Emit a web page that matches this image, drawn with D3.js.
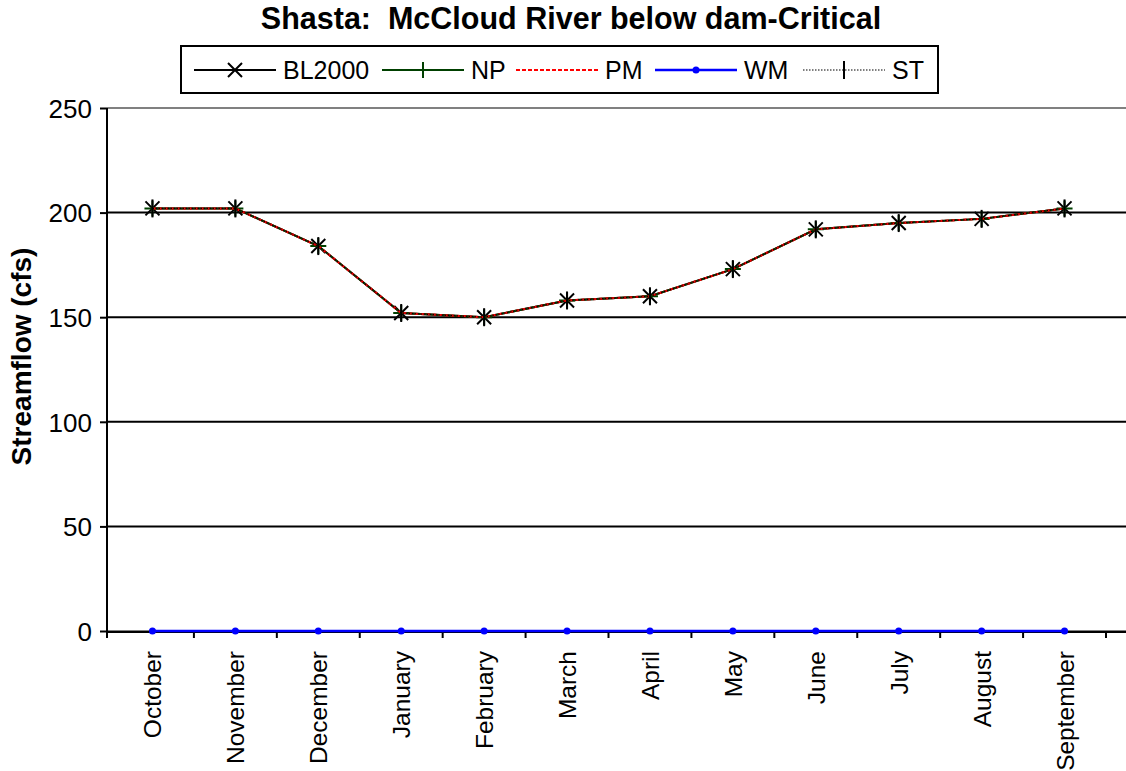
<!DOCTYPE html>
<html>
<head>
<meta charset="utf-8">
<script src="https://cdn.jsdelivr.net/npm/d3@7"></script>
<style>
  body { margin: 0; background: #fff; }
  svg text { font-family: "Liberation Sans", Arial, sans-serif; fill: #000; white-space: pre; }
</style>
</head>
<body>
<svg id="chart" width="1126" height="771"></svg>
<script>
// Shasta: McCloud River below dam — critical years, monthly streamflow

const months = ['October', 'November', 'December', 'January', 'February', 'March',
  'April', 'May', 'June', 'July', 'August', 'September'];

const bl2000 = [202, 202, 184, 152, 150, 158, 160, 173, 192, 195, 197, 202];
const np = [202, 202, 184, 152, 150, 158, 160, 173, 192, 195, 197, 202];
const pm = [202, 202, 184, 152, 150, 158, 160, 173, 192, 195, 197, 202];
const wm = [0, 0, 0, 0, 0, 0, 0, 0, 0, 0, 0, 0];
const st = [202, 202, 184, 152, 150, 158, 160, 173, 192, 195, 197, 202];

const yTicks = [0, 50, 100, 150, 200, 250];

const series = [
  { name: 'BL2000', values: bl2000, color: '#000', width: 2, dash: null, marker: 'x' },
  { name: 'NP', values: np, color: '#004000', width: 2, dash: null, marker: 'plus' },
  { name: 'PM', values: pm, color: '#ff0000', width: 2, dash: '4,2', marker: null },
  { name: 'WM', values: wm, color: '#0000ff', width: 2.5, dash: null, marker: 'dot' },
  { name: 'ST', values: st, color: '#000', width: 1.2, dash: '1.5,1.5', marker: 'bar' },
];

const svg = d3.select('#chart');
const plotL = 107, plotT = 108, plotB = 631, gridRight = 1126;

// category bands start a few px right of the axis line, as in the original
const x = d3.scaleBand().domain(months).range([111, 1106]);
const y = d3.scaleLinear().domain([0, 250]).range([plotB, plotT]);
const cx = m => x(m) + x.bandwidth() / 2;

// Title
svg.append('text')
  .attr('x', 571).attr('y', 29)
  .attr('text-anchor', 'middle')
  .style('font-size', '30.5px').style('font-weight', 'bold')
  .text('Shasta:  McCloud River below dam-Critical');

// Gridlines
svg.append('g').selectAll('line')
  .data(yTicks)
  .join('line')
  .attr('x1', plotL).attr('x2', gridRight)
  .attr('y1', d => y(d)).attr('y2', d => y(d))
  .attr('stroke', d => (d === 250 || d === 0) ? '#808080' : '#000')
  .attr('stroke-width', 2);

// Y axis
const yAxis = svg.append('g')
  .attr('transform', `translate(${plotL},0)`)
  .call(d3.axisLeft(y).tickValues(yTicks).tickSize(7).tickPadding(8));
yAxis.select('.domain').remove();
yAxis.selectAll('.tick line').attr('stroke', '#000').attr('stroke-width', 2);
yAxis.selectAll('.tick text').style('font-size', '26px').attr('dy', '0.36em');
svg.append('line')
  .attr('x1', plotL).attr('x2', plotL).attr('y1', plotT).attr('y2', plotB + 7)
  .attr('stroke', '#000').attr('stroke-width', 2);

// Y title
svg.append('text')
  .attr('transform', `translate(31,${(plotT + plotB) / 2 - 13}) rotate(-90)`)
  .attr('text-anchor', 'middle')
  .style('font-size', '28px').style('font-weight', 'bold')
  .text('Streamflow (cfs)');

// X axis
const xTickPos = d3.range(1, months.length + 1).map(i => x.range()[0] + i * x.step());
svg.append('g').selectAll('line')
  .data([plotL, ...xTickPos])
  .join('line')
  .attr('x1', d => d).attr('x2', d => d)
  .attr('y1', plotB).attr('y2', plotB + 7)
  .attr('stroke', '#000').attr('stroke-width', 2);
svg.append('line')
  .attr('x1', plotL).attr('x2', gridRight).attr('y1', plotB + 1).attr('y2', plotB + 1)
  .attr('stroke', '#000').attr('stroke-width', 2);

svg.append('g').selectAll('text')
  .data(months)
  .join('text')
  .attr('transform', d => `translate(${cx(d) + 9},${plotB + 20}) rotate(-90)`)
  .attr('text-anchor', 'end')
  .style('font-size', '24.5px')
  .text(d => d);

// Markers
function drawMarker(g, type, px, py, color) {
  if (type === 'x') {
    g.append('path').attr('d', `M${px - 7},${py - 7}L${px + 7},${py + 7}M${px - 7},${py + 7}L${px + 7},${py - 7}`)
      .attr('stroke', color).attr('stroke-width', 2);
  } else if (type === 'plus') {
    g.append('path').attr('d', `M${px - 8},${py}L${px + 8},${py}M${px},${py - 8}L${px},${py + 8}`)
      .attr('stroke', color).attr('stroke-width', 2);
  } else if (type === 'bar') {
    g.append('path').attr('d', `M${px},${py - 9}L${px},${py + 9}`)
      .attr('stroke', color).attr('stroke-width', 2);
  } else if (type === 'dot') {
    g.append('circle').attr('cx', px).attr('cy', py).attr('r', 3.5).attr('fill', color);
  }
}

const line = d3.line().x((d, i) => cx(months[i])).y(d => y(d));
const plot = svg.append('g');
series.forEach(s => {
  plot.append('path')
    .datum(s.values)
    .attr('d', line)
    .attr('fill', 'none')
    .attr('stroke', s.color)
    .attr('stroke-width', s.width)
    .attr('stroke-dasharray', s.dash);
  if (s.marker) {
    const mg = plot.append('g');
    s.values.forEach((v, i) => drawMarker(mg, s.marker, cx(months[i]), y(v), s.color));
  }
});

// Legend
const legend = svg.append('g');
legend.append('rect')
  .attr('x', 181).attr('y', 46).attr('width', 757).attr('height', 47)
  .attr('fill', '#fff').attr('stroke', '#000').attr('stroke-width', 2);
const legendX = [194, 382, 516, 655, 803];
series.forEach((s, i) => {
  const lx = legendX[i], ly = 70;
  legend.append('line')
    .attr('x1', lx).attr('x2', lx + 82).attr('y1', ly).attr('y2', ly)
    .attr('stroke', s.color).attr('stroke-width', s.width)
    .attr('stroke-dasharray', s.dash);
  if (s.marker) drawMarker(legend, s.marker, lx + 41, ly, s.color);
  legend.append('text')
    .attr('x', lx + 89).attr('y', ly + 9)
    .style('font-size', '25px')
    .text(s.name);
});
</script>
</body>
</html>
